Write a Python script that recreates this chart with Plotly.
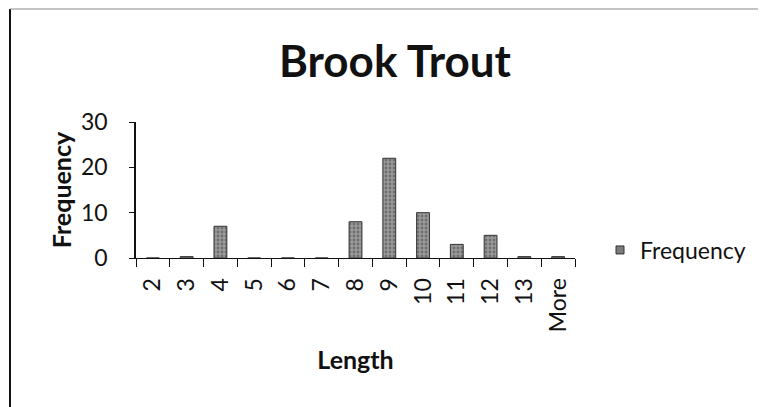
import plotly.graph_objects as go

categories = ["2", "3", "4", "5", "6", "7", "8", "9", "10", "11", "12", "13", "More"]
frequency = [0, 0.3, 7, 0, 0, 0, 8, 22, 10, 3, 5, 0.3, 0.3]
y_ticks = [0, 10, 20, 30]

font_family = "Lato, 'Open Sans', sans-serif"
bar_color = "#8a8a8a"

# page body has an 8px margin, so the figure is sized to fit the 766x407 window
W, H = 758, 399
L, T = 128, 114
PW, PH = 439, 136
R, B = W - L - PW, H - T - PH

def px_x(vx):
    return (vx - 8 - L) / PW

def px_y(vy):
    return (T + PH - (vy - 8)) / PH

fig = go.Figure()
fig.add_trace(go.Bar(
    x=categories, y=frequency, name="Frequency",
    marker=dict(color=bar_color, line=dict(color="#333333", width=1),
                pattern=dict(shape=".", fgcolor="#444444", bgcolor="#9a9a9a", size=4, solidity=0.4)),
    width=0.38, showlegend=False,
))
# legend entry (small square symbol like the reference)
fig.add_trace(go.Scatter(
    x=[None], y=[None], mode="markers", name="Frequency",
    marker=dict(symbol="square", size=8, color="#7a7a7a", line=dict(color="#333333", width=1)),
    showlegend=True,
))

fig.update_layout(
    width=W, height=H,
    margin=dict(l=L, r=R, t=T, b=B),
    paper_bgcolor="white", plot_bgcolor="white",
    font=dict(family=font_family, color="#111111", size=23),
    title=dict(text="<b>Brook Trout</b>", x=387 / W, xanchor="center", y=1 - 54 / H, yanchor="middle",
               font=dict(size=44, family=font_family, color="#111111")),
    showlegend=True,
    legend=dict(x=px_x(600), y=px_y(250), xanchor="left", yanchor="middle",
                font=dict(size=23, family=font_family), bgcolor="rgba(0,0,0,0)",
                itemwidth=30),
    xaxis=dict(
        type="category", categoryorder="array", categoryarray=categories,
        tickangle=-90, ticks="outside", ticklen=8, tickcolor="#111111",
        tickson="boundaries", showline=True, linecolor="#111111", linewidth=1,
        showgrid=False, tickfont=dict(size=23), ticklabelstandoff=10,
        title=dict(text="<b>Length</b>", font=dict(size=25), standoff=20),
    ),
    yaxis=dict(
        range=[0, 30], tickvals=y_ticks, ticks="outside", ticklen=5, tickcolor="#111111",
        showline=True, linecolor="#111111", linewidth=1.5, showgrid=False, zeroline=False,
        tickfont=dict(size=23), ticklabelstandoff=17,
        title=dict(text="<b>Frequency</b>", font=dict(size=25), standoff=2),
    ),
    shapes=[
        dict(type="line", xref="paper", yref="paper",
             x0=px_x(10), x1=px_x(10), y0=px_y(9), y1=px_y(420),
             line=dict(color="#111111", width=2)),
        dict(type="line", xref="paper", yref="paper",
             x0=px_x(10), x1=px_x(780), y0=px_y(9), y1=px_y(9),
             line=dict(color="#888888", width=1)),
    ],
)

fig.write_html("out.html")
